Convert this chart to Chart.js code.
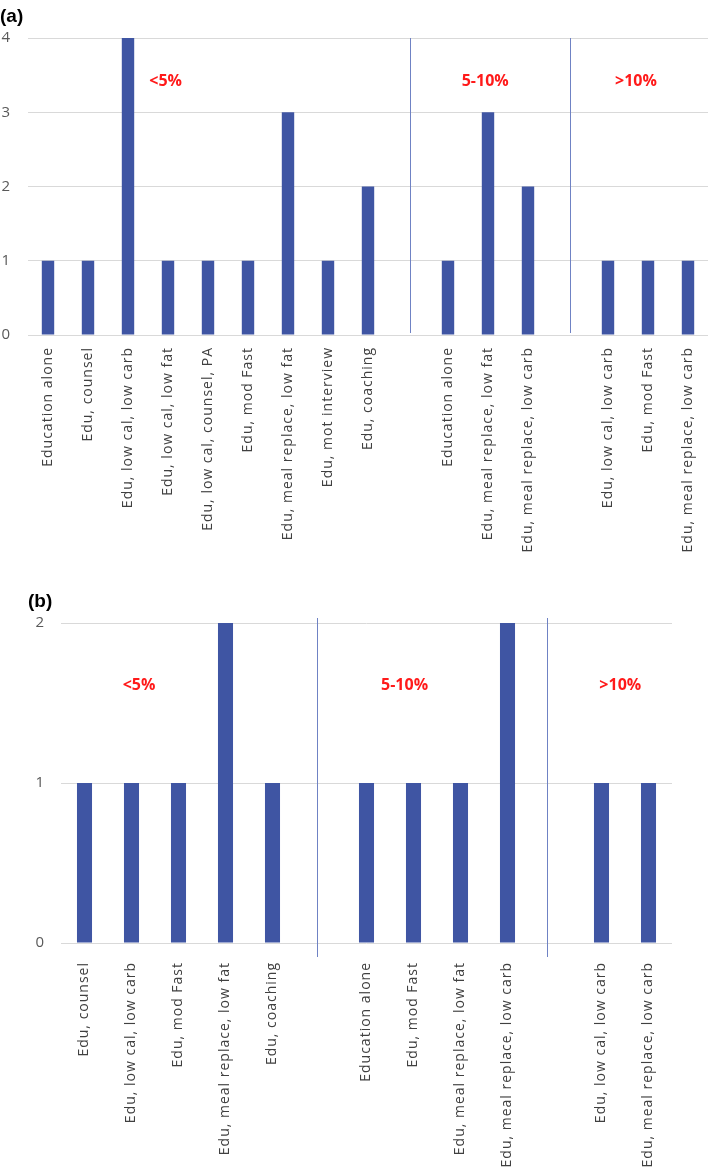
<!DOCTYPE html>
<html>
<head>
<meta charset="utf-8">
<script src="https://cdn.jsdelivr.net/npm/chart.js@4.4.1/dist/chart.umd.min.js"></script>
<style>
  html, body { margin: 0; padding: 0; background: #fff; }
  body { width: 709px; height: 1173px; position: relative; overflow: hidden; }
  .panel { position: absolute; left: 0; width: 709px; }
  #panelA { top: 0; height: 585px; }
  #panelB { top: 585px; height: 588px; }
  .tag { position: absolute; z-index: 2; font: bold 19px "Liberation Sans", Arial, sans-serif; color: #000; line-height: 1; }
</style>
</head>
<body>
<div class="panel" id="panelA"><canvas id="chartA"></canvas></div>
<div class="panel" id="panelB"><canvas id="chartB"></canvas></div>
<div class="tag" style="left:0;top:6px">(a)</div>
<div class="tag" style="left:28px;top:591px">(b)</div>

<script>
// ─── DATA ────────────────────────────────────────────────────────────────────

// panel (a) – empty strings are the gaps between the weight-loss groups
const labelsA = [
  'Education alone', 'Edu, counsel', 'Edu, low cal, low carb', 'Edu, low cal, low fat',
  'Edu, low cal, counsel, PA', 'Edu, mod Fast', 'Edu, meal replace, low fat',
  'Edu, mot interview', 'Edu, coaching', '',
  'Education alone', 'Edu, meal replace, low fat', 'Edu, meal replace, low carb', '',
  'Edu, low cal, low carb', 'Edu, mod Fast', 'Edu, meal replace, low carb'
];
const valuesA = [1, 1, 4, 1, 1, 1, 3, 1, 2, null, 1, 3, 2, null, 1, 1, 1];
const yMaxA = 4;

// panel (b)
const labelsB = [
  'Edu, counsel', 'Edu, low cal, low carb', 'Edu, mod Fast', 'Edu, meal replace, low fat',
  'Edu, coaching', '',
  'Education alone', 'Edu, mod Fast', 'Edu, meal replace, low fat', 'Edu, meal replace, low carb', '',
  'Edu, low cal, low carb', 'Edu, meal replace, low carb'
];
const valuesB = [1, 1, 1, 2, 1, null, 1, 1, 1, 2, null, 1, 1];
const yMaxB = 2;

const groupNames = ['<5%', '5-10%', '>10%'];

// group dividers and group names, in category / value units
const sepA = [9.05, 13.05];
const groupXA = [2.94, 10.93, 14.7];
const groupYA = 3.42;
const sepB = [4.94, 9.85];
const groupXB = [1.16, 6.81, 11.4];
const groupYB = 1.61;

// ─── STYLE ───────────────────────────────────────────────────────────────────

const BAR = '#3f55a3';
const SEP = '#6f82c4';
const RED = '#ff1a1a';
const GRID = '#d9d9d9';

// draws the vertical group dividers and the red group names
const groupPlugin = {
  id: 'groups',
  beforeDraw(chart) { chart.ctx.letterSpacing = '1px'; },
  afterDatasetsDraw(chart, args, opts) {
    const { ctx, chartArea } = chart;
    const x = chart.scales.x, y = chart.scales.y;
    ctx.save();
    ctx.letterSpacing = '0px';
    ctx.strokeStyle = SEP;
    ctx.lineWidth = 1;
    opts.seps.forEach(s => {
      const px = Math.round(x.getPixelForValue(s)) + 0.5;
      ctx.beginPath();
      ctx.moveTo(px, chartArea.top + opts.sepTop);
      ctx.lineTo(px, chartArea.bottom + opts.sepBottom);
      ctx.stroke();
    });
    ctx.fillStyle = RED;
    ctx.font = 'bold 16px "Open Sans"';
    ctx.textAlign = 'center';
    ctx.textBaseline = 'middle';
    opts.names.forEach((t, i) => {
      ctx.fillText(t, x.getPixelForValue(opts.xs[i]), y.getPixelForValue(opts.y));
    });
    ctx.restore();
  },
  afterDraw(chart) { chart.ctx.letterSpacing = '0px'; }
};

function makeChart(id, labels, values, yMax, cfg) {
  return new Chart(document.getElementById(id), {
    type: 'bar',
    data: {
      labels,
      datasets: [{ data: values, backgroundColor: BAR, barPercentage: 1, categoryPercentage: cfg.catPct }]
    },
    options: {
      responsive: true,
      maintainAspectRatio: false,
      animation: false,
      layout: { padding: { top: cfg.top, right: cfg.right, left: 0, bottom: 0 } },
      plugins: {
        legend: { display: false },
        tooltip: { enabled: false },
        groups: cfg.groups
      },
      scales: {
        x: {
          grid: { display: false },
          border: { display: false },
          ticks: {
            autoSkip: false, maxRotation: 90, minRotation: 90, padding: cfg.xPad,
            color: '#404040', font: { family: 'Open Sans', size: 14 }
          },
          afterFit: s => { s.height = cfg.xHeight; }
        },
        y: {
          min: 0, max: yMax,
          grid: { color: GRID, drawTicks: false },
          border: { display: false },
          ticks: { stepSize: 1, padding: cfg.yPad, color: '#595959', font: { family: 'Open Sans', size: 15 } },
          afterFit: s => { s.width = cfg.yWidth; }
        }
      }
    },
    plugins: [groupPlugin]
  });
}

makeChart('chartA', labelsA, valuesA, yMaxA, {
  catPct: 0.31, top: 38, right: 1, xPad: 4, xHeight: 250, yPad: 17, yWidth: 28,
  groups: { seps: sepA, sepTop: 0, sepBottom: -2, names: groupNames, xs: groupXA, y: groupYA }
});

makeChart('chartB', labelsB, valuesB, yMaxB, {
  catPct: 0.32, top: 38, right: 37, xPad: 11, xHeight: 230, yPad: 16, yWidth: 61,
  groups: { seps: sepB, sepTop: -5, sepBottom: 14, names: groupNames, xs: groupXB, y: groupYB }
});
</script>
</body>
</html>
